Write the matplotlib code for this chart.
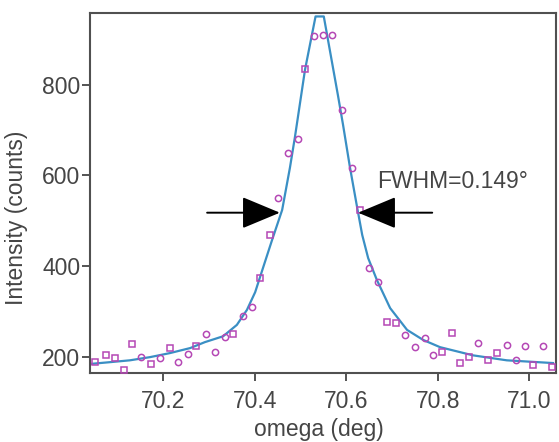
import matplotlib.pyplot as plt
import numpy as np

plt.rcParams['font.family'] = ['Liberation Sans', 'DejaVu Sans']

# measured points (omega in deg, intensity in counts)
omega = [70.051, 70.075, 70.095, 70.114, 70.132, 70.151, 70.173, 70.193, 70.215, 70.232,
         70.254, 70.272, 70.294, 70.313, 70.335, 70.353, 70.374, 70.394, 70.412, 70.433,
         70.451, 70.473, 70.495, 70.510, 70.530, 70.549, 70.569, 70.591, 70.613, 70.630,
         70.650, 70.670, 70.689, 70.709, 70.729, 70.750, 70.772, 70.790, 70.809, 70.831,
         70.849, 70.868, 70.888, 70.910, 70.930, 70.951, 70.971, 70.991, 71.008, 71.030,
         71.050]
counts = [189, 204, 198, 171, 229, 200, 185, 198, 220, 189,
          207, 224, 251, 211, 244, 251, 290, 310, 374, 469,
          551, 650, 681, 835, 906, 910, 910, 745, 617, 524,
          396, 365, 277, 275, 249, 222, 242, 204, 211, 253,
          187, 200, 231, 193, 209, 226, 193, 224, 182, 224,
          178]
shapes = ['s', 's', 's', 's', 's', 'o', 's', 'o', 's', 'o',
          'o', 's', 'o', 'o', 'o', 's', 'o', 'o', 's', 's',
          'o', 'o', 'o', 's', 'o', 'o', 'o', 'o', 'o', 's',
          'o', 'o', 's', 's', 'o', 'o', 'o', 'o', 's', 's',
          's', 's', 'o', 's', 's', 'o', 'o', 'o', 's', 'o',
          's']

# fitted curve
fit_x = [70.040, 70.084, 70.127, 70.171, 70.215, 70.259, 70.291, 70.331, 70.361, 70.383,
         70.401, 70.418, 70.438, 70.460, 70.477, 70.488, 70.510, 70.533, 70.551, 70.582,
         70.593, 70.608, 70.624, 70.635, 70.648, 70.667, 70.696, 70.733, 70.768, 70.805,
         70.877, 70.951, 71.052]
fit_y = [185, 189, 193, 200, 209, 220, 233, 246, 271, 304,
         343, 396, 458, 524, 617, 685, 833, 950, 950, 776,
         712, 619, 529, 469, 418, 370, 308, 260, 238, 222,
         204, 193, 187]

fig = plt.figure(figsize=(5.59, 4.42), dpi=100)
ax = fig.add_axes([0.161, 0.156, 0.834, 0.815])

ax.plot(fit_x, fit_y, color='#3a8fc4', lw=1.6, zorder=2)
for x, y, m in zip(omega, counts, shapes):
    ax.plot(x, y, m, ms=4.5, mfc='none', mec='#b548b5', mew=1.1, zorder=3)

ax.annotate('', xy=(70.455, 518), xytext=(70.296, 518),
            arrowprops=dict(arrowstyle='-|>,head_length=2.4,head_width=1.0',
                            color='black', lw=1.4, shrinkA=0, shrinkB=0))
ax.annotate('', xy=(70.626, 518), xytext=(70.788, 518),
            arrowprops=dict(arrowstyle='-|>,head_length=2.4,head_width=1.0',
                            color='black', lw=1.4, shrinkA=0, shrinkB=0))
ax.text(70.667, 586, 'FWHM=0.149°', fontsize=16.5, color='#454545', va='center')

ax.set_xlim(70.040, 71.059)
ax.set_ylim(165, 958)
ax.set_xticks([70.2, 70.4, 70.6, 70.8, 71.0])
ax.set_xticklabels(['70.2', '70.4', '70.6', '70.8', '71.0'])
ax.set_yticks([200, 400, 600, 800])
ax.tick_params(direction='out', length=6, width=1.3, colors='#454545', labelsize=16.5)
ax.tick_params(axis='x', pad=6)
ax.tick_params(axis='y', pad=1)
for s in ax.spines.values():
    s.set_color('#505050')
    s.set_linewidth(1.5)

ax.set_xlabel('omega (deg)', fontsize=16.5, color='#454545')
ax.set_ylabel('Intensity (counts)', fontsize=16.5, color='#454545')
ax.xaxis.set_label_coords(0.49, -0.125)
ax.yaxis.set_label_coords(-0.133, 0.43)

fig.savefig('out.png', dpi=100)
